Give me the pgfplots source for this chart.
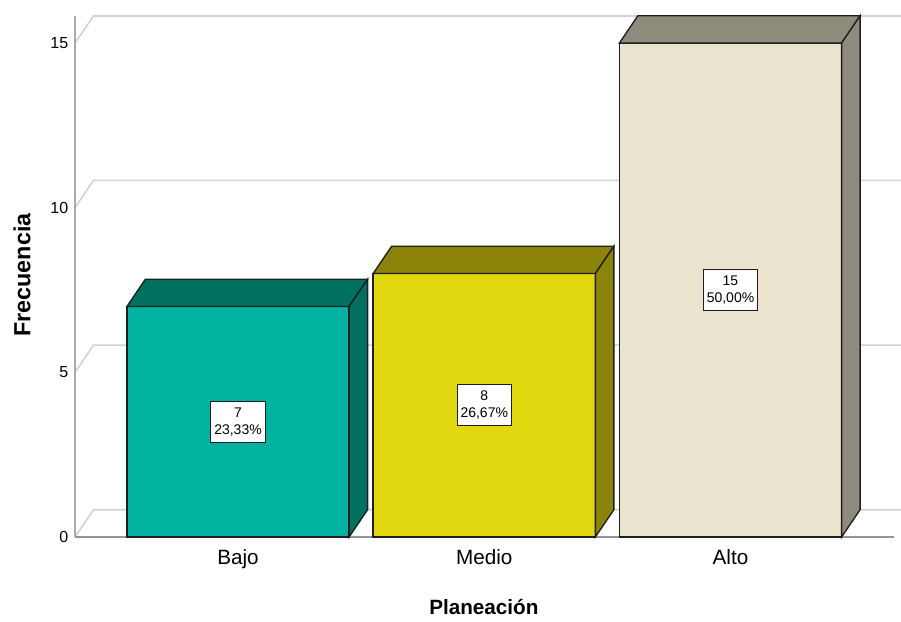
\documentclass[border=0pt]{standalone}
\usepackage{fontspec}
\setmainfont{Liberation Sans}
\usepackage{pgfplots}
\pgfplotsset{compat=1.18}
\definecolor{bajoF}{RGB}{0,178,159}
\definecolor{bajoD}{RGB}{0,112,96}
\definecolor{medioF}{RGB}{226,216,16}
\definecolor{medioD}{RGB}{140,131,10}
\definecolor{altoF}{RGB}{234,228,207}
\definecolor{altoD}{RGB}{143,139,124}
\definecolor{gridc}{RGB}{210,210,210}
\definecolor{axc}{RGB}{170,170,170}
\definecolor{basec}{RGB}{150,150,150}
\definecolor{edgec}{RGB}{30,30,30}
\begin{document}
\begin{tikzpicture}
\begin{axis}[
  x=184.69pt, y=24.7pt,
  xmin=-0.6619, xmax=2.6924, ymin=0, ymax=15.82,
  clip=false,
  axis line style={draw=none},
  tick style={draw=none},
  xtick={0,1,2}, xticklabels={Bajo,Medio,Alto},
  ytick={0,5,10,15},
  /pgf/number format/assume math mode=true,
  xticklabel style={font=\fontsize{15.5}{18}\selectfont, yshift=-6pt},
  yticklabel style={font=\fontsize{12}{14}\selectfont, xshift=-1.5pt},
  xlabel={Planeación},
  ylabel={Frecuencia},
  xlabel style={font=\fontsize{15.5}{18}\selectfont\bfseries, at={(axis description cs:0.495,-0.1344)}, anchor=center},
  ylabel style={font=\fontsize{17.5}{20}\selectfont\bfseries, at={(axis description cs:-0.0642,0.503)}, anchor=center, rotate=0},
]
% back wall gridlines with left diagonals
\addplot[gridc, line width=1.2pt] coordinates {(-0.6619,0) (-0.5868,0.829) (2.6924,0.829)};
\addplot[gridc, line width=1.2pt] coordinates {(-0.6619,5) (-0.5868,5.829) (2.6924,5.829)};
\addplot[gridc, line width=1.2pt] coordinates {(-0.6619,10) (-0.5868,10.829) (2.6924,10.829)};
\addplot[gridc, line width=1.2pt] coordinates {(-0.6619,15) (-0.5868,15.82) (2.6924,15.82)};
% front axis lines
\addplot[axc, line width=1.5pt] coordinates {(-0.6619,0) (-0.6619,15.82)};
\addplot[basec, line width=1.2pt] coordinates {(-0.6619,0) (2.664,0)};
% Bajo = 7
\addplot[fill=bajoF, draw=edgec, line width=1pt] coordinates {(-0.4512,0) (0.4512,0) (0.4512,7) (-0.4512,7)} -- cycle;
\addplot[fill=bajoD, draw=edgec, line width=1pt] coordinates {(-0.4512,7) (0.4512,7) (0.5263,7.829) (-0.3761,7.829)} -- cycle;
\addplot[fill=bajoD, draw=edgec, line width=1pt] coordinates {(0.4512,0) (0.5263,0.829) (0.5263,7.829) (0.4512,7)} -- cycle;
% Medio = 8
\addplot[fill=medioF, draw=edgec, line width=1pt] coordinates {(0.5488,0) (1.4512,0) (1.4512,8) (0.5488,8)} -- cycle;
\addplot[fill=medioD, draw=edgec, line width=1pt] coordinates {(0.5488,8) (1.4512,8) (1.5263,8.829) (0.6239,8.829)} -- cycle;
\addplot[fill=medioD, draw=edgec, line width=1pt] coordinates {(1.4512,0) (1.5263,0.829) (1.5263,8.829) (1.4512,8)} -- cycle;
% Alto = 15
\addplot[fill=altoF, draw=edgec, line width=1pt] coordinates {(1.5488,0) (2.4512,0) (2.4512,15) (1.5488,15)} -- cycle;
\addplot[fill=altoD, draw=edgec, line width=1pt] coordinates {(1.5488,15) (2.4512,15) (2.5263,15.829) (1.6239,15.829)} -- cycle;
\addplot[fill=altoD, draw=edgec, line width=1pt] coordinates {(2.4512,0) (2.5263,0.829) (2.5263,15.829) (2.4512,15)} -- cycle;
% labels
\addplot[draw=none, mark=none, nodes near coords, point meta=explicit symbolic,
  nodes near coords style={anchor=center, draw=edgec, line width=0.8pt, fill=white, align=center,
    font=\fontsize{10.5}{12.5}\selectfont, inner xsep=2.5pt, inner ysep=4.8pt, text=black}]
  coordinates {(0,3.5) [{7\\23,33\%}] (1,4) [{8\\26,67\%}] (2,7.5) [{15\\50,00\%}]};
\coordinate (bl) at (axis cs:-0.9665,-2.551);
\coordinate (tr) at (axis cs:2.6924,16.307);
\end{axis}
\pgfresetboundingbox
\path[use as bounding box] (bl) rectangle (tr);
\end{tikzpicture}
\end{document}
